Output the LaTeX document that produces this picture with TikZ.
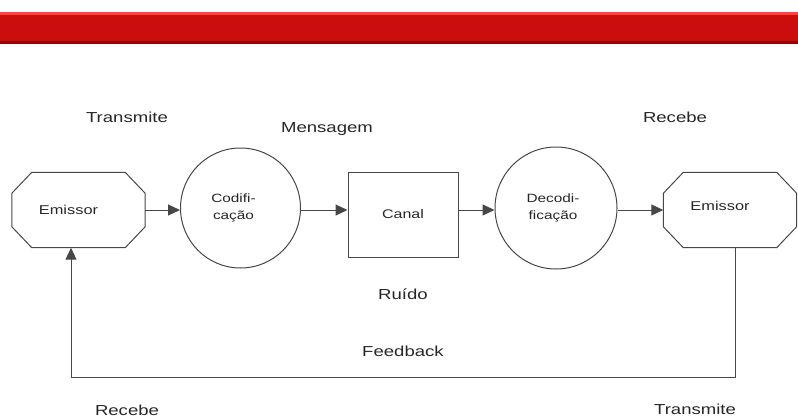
\documentclass[tikz,border=0pt]{standalone}
\usepackage{fontspec}
\setmainfont{Liberation Sans}
\usetikzlibrary{arrows.meta}
\newcommand{\widetxt}[1]{\scalebox{1.28}[1]{#1}}
\begin{document}
\begin{tikzpicture}[x=1pt,y=-1pt,
  ln/.style={draw=black!72, line width=1pt},
  arr/.style={ln, -{Triangle[length=12pt,width=11pt]}},
  octo/.style={rectangle, minimum width=133pt, minimum height=75pt, inner sep=0pt, font=\fontsize{12.8}{15}\selectfont, text=black!85},
  circ/.style={circle, ln, inner sep=0pt, font=\fontsize{12}{17}\selectfont, align=center, text=black!85},
  boxx/.style={rectangle, ln, inner sep=0pt, font=\fontsize{12.5}{15}\selectfont, text=black!85},
  lbl/.style={font=\fontsize{14.5}{17}\selectfont, text=black!85, inner sep=0pt}
]
\useasboundingbox (0,0) rectangle (798,418);
% red bar
\fill[red!80!black] (0,12) rectangle (798,44);
\fill[red!75!white] (0,12) rectangle (798,15);
\fill[red!60!black] (0,41) rectangle (798,44);
\fill[red!78!black!95] (0,15) rectangle (798,41);

% nodes
\node[octo] (e1) at (78.5,210) {\hspace*{-20pt}\widetxt{Emissor}};
\node[circ, minimum size=120pt] (c1) at (240.5,208) {\hspace*{-14pt}\widetxt{Codifi-}\\\hspace*{-14pt}\widetxt{cação}};
\node[boxx, minimum width=110pt, minimum height=85pt] (canal) at (403,214.5) {\raisebox{-3pt}{\widetxt{Canal}}};
\node[circ, minimum size=122pt] (c2) at (556,208) {\hspace*{-6pt}\widetxt{Decodi-}\\\hspace*{-6pt}\widetxt{ficação}};
\node[octo] (e2) at (730,210) {\hspace*{-20pt}\raisebox{8pt}{\widetxt{Emissor}}};

% octagon outlines
\foreach \n in {e1,e2}{
  \draw[ln] ([xshift=20pt]\n.north west) -- ([xshift=-20pt]\n.north east)
    -- ([yshift=-21pt]\n.north east) -- ([yshift=21pt]\n.south east)
    -- ([xshift=-20pt]\n.south east) -- ([xshift=20pt]\n.south west)
    -- ([yshift=21pt]\n.south west) -- ([yshift=-21pt]\n.north west) -- cycle;
}

% connectors
\draw[arr] (e1.east) -- (e1.east -| c1.west);
\draw[arr] (c1.east |- e1.east) -- (e1.east -| canal.west);
\draw[arr] (canal.east |- e1.east) -- (e1.east -| c2.west);
\draw[arr] (c2.east |- e1.east) -- (e2.west);

\coordinate (fr) at (735,377);
\coordinate (fl) at (71,377);
\draw[arr] (e2.south -| fr) -- (fr) -- (fl) -- (fl |- e1.south);

% labels
\node[lbl] (t1) at (127,117) {\widetxt{Transmite}};
\node[lbl] (t2) at (327,129) {\widetxt{Mensagem}};
\node[lbl] (t3) at (675,117) {\widetxt{Recebe}};
\node[lbl] (t4) at (403,294) {\widetxt{Ruído}};
\node[lbl] (t5) at (403,351) {\widetxt{Feedback}};
\node[lbl] (t6) at (127,410) {\widetxt{Recebe}};
\node[lbl] (t7) at (695,409) {\widetxt{Transmite}};
\end{tikzpicture}
\end{document}
